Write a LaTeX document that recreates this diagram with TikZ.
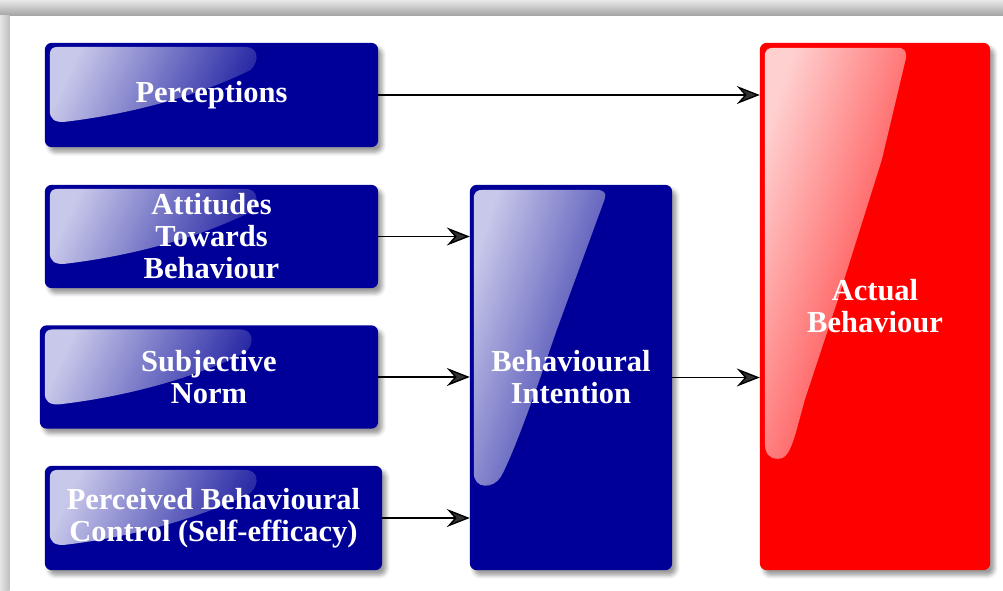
\documentclass[tikz,border=0pt]{standalone}
\usepackage{fontspec}
\setmainfont{Liberation Serif}
\usetikzlibrary{arrows.meta,shadows.blur}

\definecolor{boxblue}{RGB}{0,0,153}
\definecolor{glossblueA}{RGB}{200,200,234}
\definecolor{glossblueB}{RGB}{38,38,164}
\definecolor{boxred}{RGB}{255,0,0}
\definecolor{glossredA}{RGB}{255,208,208}
\definecolor{glossredB}{RGB}{255,40,40}

\pgfdeclarelayer{boxes}
\pgfdeclarelayer{gloss}
\pgfsetlayers{boxes,gloss,main}

% glossy highlight of a wide box, placed from its north west corner
\newcommand\wideglint[1]{%
  \begin{scope}[shift={(#1.north west)}]
    \shade[top color=glossblueA, bottom color=glossblueB, shading angle=65]
      (5,12) .. controls (5,6) and (8,4) .. (14,4)
      -- (200,4)
      .. controls (214,4) and (215,18) .. (206,27)
      .. controls (150,55) and (80,72) .. (20,79)
      .. controls (10,80) and (5,76) .. (5,68) -- cycle;
  \end{scope}}

\begin{document}
\begin{tikzpicture}[x=1pt,y=-1pt,
  card/.style={rectangle, draw=none, inner sep=0pt, align=center, text=white,
    font=\fontsize{30.5}{32}\selectfont\bfseries},
  panel/.style={rounded corners=7pt,
    blur shadow={shadow xshift=4pt, shadow yshift=-5pt,
      shadow blur radius=4pt, shadow opacity=40}},
  link/.style={line width=1.4pt, -{Stealth[length=23pt,width=18pt,inset=8pt]}},
]
\useasboundingbox (0,0) rectangle (1003,590);

% window edge along the top and the left
\shade[top color=gray!18, bottom color=gray!70] (0,0) rectangle (1003,15);
\shade[left color=gray!20, right color=gray!50] (0,15) rectangle (9.5,590);

% factor boxes
\node[card, minimum width=333pt, minimum height=104pt] (perc) at (211.5,95) {Perceptions};
\node[card, minimum width=333pt, minimum height=103pt] (att) at (211.5,236.5) {Attitudes\\Towards\\Behaviour};
\node[card, minimum width=338pt, minimum height=103pt] (norm) at (209,377) {Subjective\\Norm};
\node[card, minimum width=337pt, minimum height=104pt] (pbc) at (213.5,518) {Perceived Behavioural\\Control (Self-efficacy)};

% intention and behaviour
\node[card, minimum width=202pt, minimum height=385pt] (bi) at (571,377.5) {Behavioural\\Intention};
\node[card, minimum width=230pt, minimum height=527pt] (act) at (875,306.5) {Actual\\Behaviour};

% box bodies with their shadows
\begin{pgfonlayer}{boxes}
  \foreach \b in {perc,att,norm,pbc,bi}
    \fill[panel, boxblue] (\b.north west) rectangle (\b.south east);
  \fill[panel, boxred] (act.north west) rectangle (act.south east);
\end{pgfonlayer}

% glossy highlights
\begin{pgfonlayer}{gloss}
  \wideglint{perc}
  \wideglint{att}
  \wideglint{norm}
  \wideglint{pbc}
  \begin{scope}[shift={(bi.north west)}]
    \shade[top color=glossblueA, bottom color=glossblueB, shading angle=72]
      (4,14) .. controls (4,7) and (7,5) .. (14,5)
      -- (126,5) .. controls (134,5) and (137,8) .. (135,14)
      -- (87,145) -- (68,200)
      .. controls (50,250) and (38,280) .. (31,292)
      .. controls (24,304) and (4,305) .. (4,288) -- cycle;
  \end{scope}
  \begin{scope}[shift={(act.north west)}]
    \shade[top color=glossredA, bottom color=glossredB, shading angle=72]
      (5,14) .. controls (5,7) and (8,5) .. (14,5)
      -- (138,5) .. controls (145,5) and (147,9) .. (146,16)
      -- (122,117) -- (78,257) -- (45,357) -- (36,390)
      .. controls (30,410) and (26,416) .. (18,416)
      .. controls (9,416) and (5,410) .. (5,400) -- cycle;
  \end{scope}
\end{pgfonlayer}

% connectors
\draw[link] (perc.east) -- (perc.east -| act.west);
\draw[link] (att.east) -- (att.east -| bi.west);
\draw[link] (norm.east) -- (norm.east -| bi.west);
\draw[link] (pbc.east) -- (pbc.east -| bi.west);
\draw[link] (bi.east) -- (bi.east -| act.west);
\end{tikzpicture}
\end{document}
